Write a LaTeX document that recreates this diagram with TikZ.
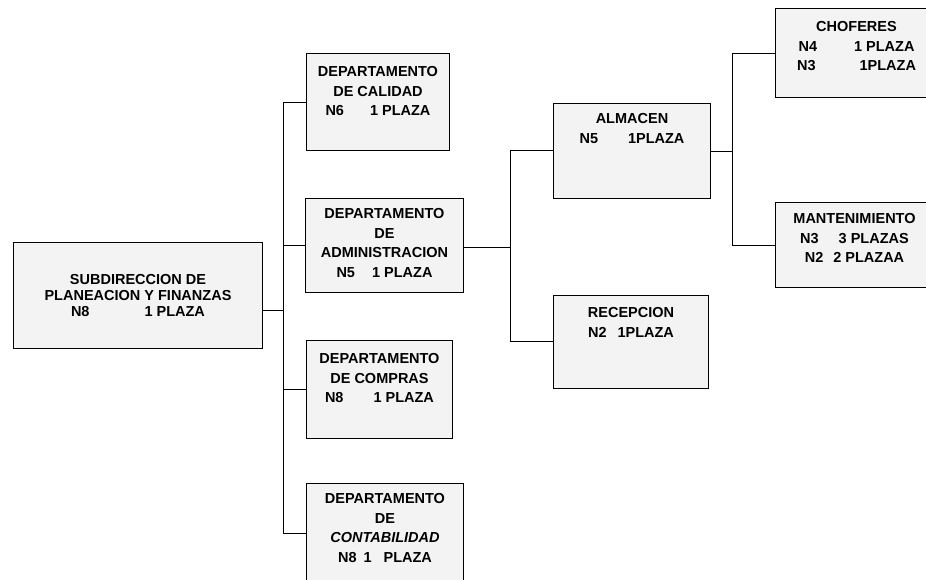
\documentclass[tikz,border=0pt]{standalone}
\usepackage{fontspec}
\setmainfont{Liberation Sans}
\usetikzlibrary{positioning}
\definecolor{boxgray}{RGB}{243,243,243}
\newcommand{\padbelow}[1]{\rule[-#1]{0pt}{#1}}

\begin{document}
\begin{tikzpicture}[x=1pt, y=-1pt,
            unit/.style={draw=black, line width=1pt, fill=boxgray, anchor=north west, align=center, inner xsep=0pt, font=\fontsize{14.5}{19.5}\selectfont\bfseries},
            link/.style={draw=black, line width=0.8pt}
        ]
            \useasboundingbox (0,0) rectangle (926,579);

            \node[unit, minimum width=249pt, minimum height=106pt, font=\fontsize{14.5}{16}\selectfont\bfseries] (sub) at (13,242) {SUBDIRECCION DE\\PLANEACION Y FINANZAS\\N8\hspace{55pt}1 PLAZA};

            \node[unit, minimum width=143pt, inner ysep=13pt] (cal) at (306,53) {DEPARTAMENTO\\DE CALIDAD\\N6\hspace{26pt}1 PLAZA\padbelow{22pt}};
            \node[unit, minimum width=158pt, inner ysep=10pt] (adm) at (305,198) {DEPARTAMENTO\\DE\\ADMINISTRACION\\N5\hspace{17pt}1 PLAZA\padbelow{5pt}};
            \node[unit, minimum width=146pt, inner ysep=13pt] (com) at (306,340) {DEPARTAMENTO\\DE COMPRAS\\N8\hspace{30pt}1 PLAZA\padbelow{23pt}};
            \node[unit, minimum width=157pt, inner ysep=10pt] (con) at (306,483) {DEPARTAMENTO\\DE\\\textit{CONTABILIDAD}\\N8\hspace{7pt}1\hspace{12pt}PLAZA\padbelow{11pt}};

            \node[unit, minimum width=157pt, inner ysep=10pt] (alm) at (553,103) {ALMACEN\\N5\hspace{30pt}1PLAZA\padbelow{45pt}};
            \node[unit, minimum width=155pt, inner ysep=12pt] (rec) at (553,295) {RECEPCION\\N2\hspace{11pt}1PLAZA\padbelow{39pt}};

            \node[unit, minimum width=162pt, inner ysep=13pt] (cho) at (775,8) {CHOFERES\\N4\hspace{37pt}1 PLAZA\\N3\hspace{44pt}1PLAZA\padbelow{14pt}};
            \node[unit, minimum width=158pt, inner ysep=11pt] (man) at (775,202) {MANTENIMIENTO\\N3\hspace{20pt}3 PLAZAS\\N2\hspace{10pt}2 PLAZAA\padbelow{14pt}};

            % buses
            \coordinate (b1) at (283,310);
            \coordinate (b2) at (510,247);
            \coordinate (b3) at (732,151);

            \draw[link] (sub.east |- b1) -- (b1);
            \foreach \nd in {cal,adm,com,con} \draw[link] (\nd.west) -| (b1);
            \draw[link] (adm.east |- b2) -- (b2);
            \foreach \nd in {alm,rec} \draw[link] (\nd.west) -| (b2);
            \draw[link] (alm.east |- b3) -- (b3);
            \foreach \nd in {cho,man} \draw[link] (\nd.west) -| (b3);
        \end{tikzpicture}
\end{document}
